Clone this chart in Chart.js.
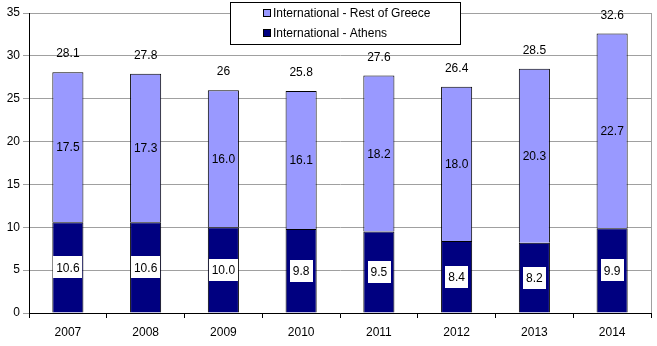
<!DOCTYPE html>
<html>
<head>
<meta charset="utf-8">
<script src="https://cdn.jsdelivr.net/npm/chart.js@4/dist/chart.umd.min.js"></script>
<style>
  html, body { margin: 0; padding: 0; background: #fff; }
  #wrap { position: relative; width: 657px; height: 346px; }
</style>
</head>
<body>
<div id="wrap"><canvas id="chart" width="657" height="346"></canvas></div>
<script>
const years = ["2007", "2008", "2009", "2010", "2011", "2012", "2013", "2014"];
const athens = [10.6, 10.6, 10.0, 9.8, 9.5, 8.4, 8.2, 9.9];
const restOfGreece = [17.5, 17.3, 16.0, 16.1, 18.2, 18.0, 20.3, 22.7];
const totals = [28.1, 27.8, 26, 25.8, 27.6, 26.4, 28.5, 32.6];

const FONT = "Arial, 'Liberation Sans', sans-serif";
const GRID = "#a0a0a0";

// labels on the bars + totals above
const barLabels = {
  id: "barLabels",
  afterDatasetsDraw(chart) {
    const ctx = chart.ctx;
    ctx.save();
    ctx.font = "12px " + FONT;
    ctx.textAlign = "center";
    ctx.textBaseline = "middle";

    const low = chart.getDatasetMeta(0).data;
    low.forEach((bar, i) => {
      const p = bar.getProps(["x", "y", "base"], true);
      const cy = (p.y + p.base) / 2;
      const txt = athens[i].toFixed(1);
      const w = ctx.measureText(txt).width + 6;
      ctx.fillStyle = "#fff";
      ctx.fillRect(Math.round(p.x - w / 2), Math.round(cy - 11), Math.round(w), 22);
      ctx.fillStyle = "#000";
      ctx.fillText(txt, p.x, cy + 1);
    });

    const high = chart.getDatasetMeta(1).data;
    high.forEach((bar, i) => {
      const p = bar.getProps(["x", "y", "base"], true);
      ctx.fillStyle = "#000";
      ctx.fillText(restOfGreece[i].toFixed(1), p.x, (p.y + p.base) / 2 + 1);
      ctx.fillText(String(totals[i]), p.x, p.y - 18);
    });
    ctx.restore();
  }
};

// right border of plot area and the legend box
const frameAndLegend = {
  id: "frameAndLegend",
  beforeDatasetsDraw(chart) {
    const a = chart.chartArea;
    const ctx = chart.ctx;
    ctx.save();
    ctx.strokeStyle = GRID;
    ctx.lineWidth = 1;
    ctx.beginPath();
    ctx.moveTo(Math.round(a.right) + 0.5, a.top);
    ctx.lineTo(Math.round(a.right) + 0.5, a.bottom);
    ctx.stroke();
    ctx.restore();
  },
  afterDraw(chart) {
    const ctx = chart.ctx;
    ctx.save();
    ctx.fillStyle = "#fff";
    ctx.fillRect(230, 2, 231, 42);
    ctx.strokeStyle = "#000";
    ctx.lineWidth = 1;
    ctx.strokeRect(230.5, 2.5, 230, 42);

    const items = [
      { text: "International - Rest of Greece", color: "#9999ff", y: 13 },
      { text: "International - Athens", color: "#000080", y: 33 }
    ];
    ctx.font = "12px " + FONT;
    ctx.textBaseline = "middle";
    ctx.textAlign = "left";
    items.forEach(it => {
      ctx.fillStyle = it.color;
      ctx.fillRect(263, it.y - 4, 8, 8);
      ctx.strokeStyle = "#000";
      ctx.strokeRect(263.5, it.y - 3.5, 7, 7);
      ctx.fillStyle = "#000";
      ctx.fillText(it.text, 273, it.y + 1);
    });
    ctx.restore();
  }
};

new Chart(document.getElementById("chart"), {
  type: "bar",
  data: {
    labels: years,
    datasets: [
      {
        label: "International - Athens",
        data: athens,
        backgroundColor: "#000080",
        borderColor: "#000",
        borderWidth: 1
      },
      {
        label: "International - Rest of Greece",
        data: restOfGreece,
        backgroundColor: "#9999ff",
        borderColor: "#000",
        borderWidth: 1
      }
    ]
  },
  options: {
    responsive: false,
    animation: false,
    devicePixelRatio: 1,
    barPercentage: 0.4,
    categoryPercentage: 1.0,
    layout: { padding: { top: 13, right: 6, left: 0, bottom: 0 } },
    plugins: {
      legend: { display: false },
      tooltip: { enabled: false }
    },
    scales: {
      x: {
        stacked: true,
        grid: {
          drawOnChartArea: false,
          tickLength: 5,
          color: "#000",
          offset: true
        },
        border: { color: "#000", width: 1 },
        ticks: { color: "#000", font: { family: FONT, size: 12 }, padding: 7 },
        afterFit: s => { s.height = 33; }
      },
      y: {
        stacked: true,
        min: 0,
        max: 35,
        ticks: { stepSize: 5, color: "#000", font: { family: FONT, size: 12 }, padding: 3 },
        grid: { color: GRID, tickLength: 6 },
        border: { color: "#000", width: 1 },
        afterFit: s => { s.width = 29; }
      }
    }
  },
  plugins: [barLabels, frameAndLegend]
});
</script>
</body>
</html>
